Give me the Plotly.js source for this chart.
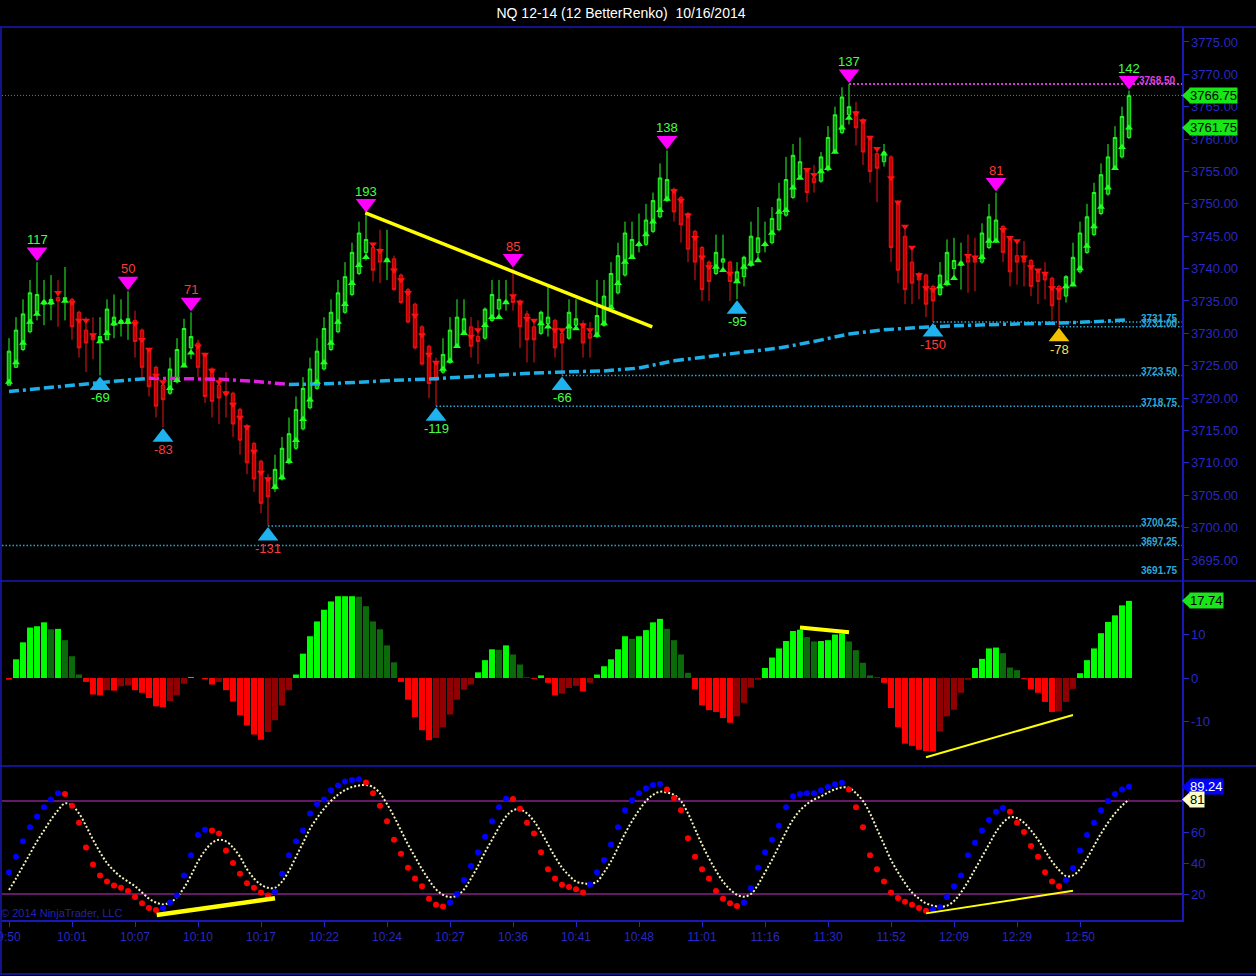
<!DOCTYPE html>
<html><head><meta charset="utf-8">
<script src="https://cdn.plot.ly/plotly-3.0.1.min.js"></script>
<style>html,body{margin:0;padding:0;background:#000;overflow:hidden}#chart{width:1256px;height:976px}</style>
</head><body><div id="chart"></div>
<script>
// ---------------- DATA ----------------
const titleText = 'NQ 12-14 (12 BetterRenko)  10/16/2014';
const timeLabels = ['9:50','10:01','10:07','10:10','10:17','10:22','10:24','10:27','10:36','10:41','10:48','11:01','11:16','11:30','11:52','12:09','12:29','12:50'];
const timeTickIdx = [0,9,18,27,36,45,54,63,72,81,90,99,108,117,126,135,144,153];

const barOpen = [3722,3724.75,3727.5,3730.25,3733.25,3734.5,3734.5,3735.5,3735.25,3735.25,
3733.25,3730.5,3729.75,3728.75,3729,3731.25,3731.5,3731.5,3732,3730.5,
3727.5,3724.75,3722,3720.75,3722.5,3725,3727.75,3728.5,3726.75,3724.5,
3722,3721,3720.75,3718.25,3715.75,3713,3710.25,3707.5,3706,3707.5,
3710,3712.25,3715.25,3718.5,3721.5,3724.5,3727.5,3730.25,3733.25,3736,
3739.25,3742.5,3743.25,3743,3741.25,3741.5,3739,3736.75,3734.5,3731,
3728,3725.5,3724,3725.5,3728,3730,3731,3729.5,3729.25,3732,
3733.75,3734.75,3735.5,3735,3733,3731,3730,3731.5,3732,3730,
3729.25,3731.25,3731.5,3730,3729.5,3731.25,3733.75,3736.25,3739,3741.75,
3743.5,3743.75,3745.75,3748,3750.5,3752.25,3751,3748.5,3745.75,3743.25,
3741,3739.25,3741,3741,3738,3738.75,3740.5,3742.5,3743.5,3744,
3746,3748.25,3751,3754.25,3755.25,3754,3753.5,3755.25,3758,3761,
3763.75,3764.25,3763,3760.25,3757.75,3756.5,3757.25,3750.25,3745,3741,
3739.25,3739,3737.25,3736,3737.5,3740,3740.5,3741.75,3741.75,3741,
3743.25,3744.25,3746.5,3744.75,3742,3741.75,3741.25,3739.5,3739.25,3738.5,
3737.25,3735.75,3737.5,3739.5,3742.5,3745.25,3748.5,3751.5,3755.5,3757.25,
3760.25];
const barHigh = [3729.25,3732.5,3735.25,3738.25,3741,3738.25,3739,3738.25,3740.25,3735.5,
3733.5,3732.5,3732.5,3732.5,3735.25,3736,3735.25,3736.5,3733.5,3730.75,
3727.75,3725,3722.5,3726.25,3729.25,3732.25,3733.25,3729,3727,3724.75,
3723.25,3724,3721,3718.5,3716,3713.25,3710.5,3708.25,3711.25,3714,
3717,3720.25,3723.25,3726.25,3729.25,3732.5,3735.25,3738.25,3741,3744,
3747.25,3748.5,3744,3746,3746,3742,3739.25,3737,3734.75,3731.25,
3728.25,3726.25,3729.25,3732.5,3735.25,3735.25,3732.5,3732,3734,3738.25,
3738.25,3738.25,3740,3735.25,3733.5,3732,3733.5,3737.25,3732.25,3730.5,
3735.25,3735.25,3732,3731.75,3738.25,3738.25,3741,3744,3747.25,3747.25,
3748.5,3750,3751.75,3756.25,3758.25,3752.5,3751.25,3748.75,3746,3743.5,
3741.25,3745.25,3745.25,3741.25,3741,3742,3747.25,3749.5,3747.25,3749.5,
3753.25,3757.25,3759.25,3760.25,3755.5,3756,3758,3762,3765,3768,
3768.5,3765.75,3763.25,3760.5,3758.5,3759.25,3757.5,3750.5,3746.5,3743.25,
3739.5,3739.25,3737.5,3741,3744.5,3744.75,3744,3745.25,3744.75,3747,
3750,3751.75,3746.75,3745,3744.25,3744.25,3741.5,3739.75,3741,3738.75,
3737.5,3739,3744,3747.25,3750,3753.25,3756.25,3759.25,3762,3765,
3767.5];
const barLow = [3722,3724.75,3727.25,3730,3732,3731.25,3732,3731,3732,3729,
3726.25,3724,3726,3723.5,3729,3729.25,3729.5,3729,3726.25,3723.25,
3720.25,3717,3715.5,3720.5,3722.25,3724.75,3726,3723.25,3719.25,3717,
3716,3717,3714,3711.25,3708.25,3705.5,3702.25,3700.25,3705.5,3707.25,
3709.75,3712,3715,3718.25,3721.25,3724.25,3727.25,3730,3733,3735.75,
3739,3741.25,3738,3737.75,3738.25,3736.5,3734.5,3731.5,3727.5,3725,
3720,3718.75,3723.75,3725.25,3727.75,3729.75,3726.25,3725.25,3729,3731.75,
3732.25,3733.5,3733.5,3727.75,3725.5,3725.5,3729.75,3729.5,3726.25,3723.5,
3729,3730.5,3726.25,3726.25,3729.25,3731,3733.5,3736,3738.75,3741.5,
3742.5,3743.5,3745.5,3747.75,3750.25,3747.25,3744,3741,3738.25,3735,
3735,3739,3739.5,3735,3735.25,3737.25,3740.25,3741.25,3742.5,3743.75,
3745.75,3748,3750.75,3753.75,3750.25,3751.75,3753.25,3755,3757.75,3760.75,
3762.25,3759,3756,3753.25,3750.25,3755.75,3741,3737.75,3734.5,3734.5,
3735.25,3732.5,3731.75,3735.75,3737.25,3738.5,3736.75,3736.25,3736.5,3740.75,
3743,3744,3741,3737.25,3737.5,3737.25,3735.75,3734.5,3735.25,3732,
3731,3734.75,3737.25,3739.25,3742.25,3745,3748.25,3751.25,3755.25,3757,
3760];
const barClose = [3727.25,3730.5,3733,3736.25,3736,3735,3735.25,3735,3735.5,3731,
3727.75,3728.5,3729,3729.5,3733.75,3732.5,3732,3732.25,3728.75,3724.75,
3721.75,3718.75,3719.75,3724.5,3727.5,3730.75,3729.5,3724.75,3720.25,3719.5,
3720,3720.5,3716,3713.5,3710,3707.5,3703.75,3704.75,3709,3712.25,
3714.5,3718.25,3721.5,3724.5,3727.25,3730.75,3733.25,3736.25,3738.75,3742.5,
3745.5,3744.5,3739.75,3741,3741.5,3736.75,3734.75,3731.75,3727.75,3725.25,
3722.25,3722.75,3726.75,3730.5,3732.5,3732.25,3728,3728.75,3733.75,3736,
3735.25,3735,3734.75,3731,3729,3729,3733.25,3732.5,3727.75,3728.5,
3733.25,3732.25,3728.5,3729.25,3732.75,3735.75,3739.25,3742,3745.5,3744.5,
3743.75,3747.5,3750.5,3754,3753.75,3748.75,3746.75,3743,3741,3736.75,
3738,3742.5,3741.5,3738,3739.5,3741.75,3745,3744.75,3743.75,3747.75,
3750.75,3753.75,3757.5,3756.5,3751.75,3753.25,3757.25,3760.25,3763.75,3766.5,
3765,3761.75,3758,3755,3755.5,3758,3743.25,3739.75,3736.75,3737.75,
3738.25,3734.5,3735,3739,3742.5,3741.25,3741,3741,3741,3745.5,
3748,3747.5,3742.5,3739.5,3741,3741,3737.25,3738,3738.25,3734.25,
3735.25,3738.75,3741.75,3745.5,3748,3751.75,3754.5,3757.25,3760.25,3763.5,
3766.75];
const barTick = [3722.5,3725.5,3728.5,3731.75,3733,3734.75,3734.75,3736.25,3735,3734.75,
3732,3732,3729.75,3728.75,3730,3731.5,3731.75,3731.75,3731.5,3729,
3727.5,3723.5,3722.5,3721.5,3722.75,3725,3727,3728,3726.75,3724.25,
3722.5,3720.75,3719,3717,3715.5,3711.75,3708.5,3707.5,3706.25,3707.75,
3710.25,3713.5,3716.75,3719.75,3722.5,3725.5,3728.5,3731.75,3734.5,3737.75,
3740.5,3741.75,3743.75,3742.75,3741.25,3739.75,3738.25,3736.25,3732.75,3729.75,
3726.75,3725.5,3724.5,3725.75,3728,3730,3729.5,3730.5,3731.25,3732.5,
3732.5,3734.75,3735.75,3734.75,3732.25,3732,3731.5,3731,3730.5,3730.5,
3731,3730.75,3731.25,3730.5,3729.75,3731.5,3734,3737.75,3741,3741.75,
3743.75,3745.25,3747.25,3749,3750.75,3752,3750.5,3748.25,3744.75,3741.75,
3740.25,3740.25,3739.75,3739.25,3738,3740.25,3740.75,3741.25,3743.75,3745.5,
3748.75,3749,3752.5,3754,3755.25,3754.5,3755,3755.5,3758,3761.75,
3763.25,3764,3762.75,3760.25,3758.5,3757.75,3754,3750.25,3746.5,3743.25,
3739,3737,3736.75,3737.25,3737.75,3738.5,3740.75,3742,3741.75,3741.75,
3744.25,3744.25,3746,3744.75,3744.25,3741.75,3740.25,3739.75,3739.25,3737,
3736.75,3737.25,3737.5,3740,3743.5,3746.5,3749.5,3752.5,3755.5,3758.75,
3761.75];

const maIdx = [0,5,10,15,20,25,30,35,40,45,50,55,60,65,70,75,80,85,90,95,100,105,110,115,120,125,130,135,140,145,150,155,160];
const maVal = [3721.0,3721.55,3722.07,3722.6,3723.05,3723.0,3722.9,3722.6,3722.1,3722.2,3722.45,3722.75,3722.95,3723.25,3723.56,3723.87,3724.07,3724.2,3724.64,3725.77,3726.43,3727.1,3727.73,3728.75,3729.9,3730.55,3730.9,3731.17,3731.33,3731.48,3731.58,3731.8,3732.1];

const levelVals  = [3697.25, 3700.25, 3718.75, 3723.50, 3731.75, 3731.00];
const levelStart = [-1, 37, 61, 79, 132, 150];
const priceMinLabel = 3691.75;
const highLevel = 3768.50, highLevelStart = 120;
const lastClose = 3766.75, lastTick = 3761.75;

const peakIdx   = [4, 17, 26, 51, 72, 94, 120, 141, 160];
const peakLabel = ['117','50','71','193','85','138','137','81','142'];
const peakKind  = ['g','r','r','g','r','g','g','r','g'];
const troughIdx   = [13, 22, 37, 61, 79, 104, 132, 150];
const troughLabel = ['-69','-83','-131','-119','-66','-95','-150','-78'];
const troughKind  = ['g','r','r','g','g','g','r','y'];

const histVals = [-0.4,4.3,8.2,11.6,11.9,12.8,11.2,11.3,8.7,5.0,
0.8,-0.9,-3.8,-4.0,-2.8,-2.9,-1.9,-1.7,-2.8,-3.4,
-4.6,-6.5,-6.7,-5.3,-4.0,-1.3,0.2,0.0,-0.3,-1.5,
-0.9,-2.8,-5.4,-8.6,-10.9,-13.0,-14.2,-12.4,-9.7,-6.3,
-2.8,0.8,5.6,9.6,13.0,15.7,17.6,18.8,18.8,18.8,
18.7,16.5,13.0,11.2,7.5,3.6,-0.9,-5.0,-9.0,-12.0,
-14.3,-13.8,-11.3,-8.4,-5.0,-2.7,-1.5,1.3,4.1,6.6,
6.5,7.5,5.4,3.1,0.15,-0.2,0.6,-1.1,-4.0,-3.6,
-2.3,-1.8,-3.1,-1.1,0.8,2.7,4.3,6.6,9.6,9.0,
9.6,11.0,12.8,13.6,11.3,8.7,5.4,1.2,-2.6,-6.3,
-7.4,-7.8,-9.2,-10.3,-8.8,-5.7,-2.2,-0.4,2.3,4.7,
6.8,8.5,10.8,11.1,9.4,8.4,8.5,8.7,10.0,10.2,
8.4,6.4,3.5,0.6,0.15,-1.1,-6.9,-11.3,-15.1,-15.6,
-16.5,-16.8,-16.9,-12.3,-8.8,-7.3,-3.4,-0.4,2.3,4.4,
6.8,7.0,5.7,2.4,1.8,-0.2,-2.6,-3.4,-5.5,-7.8,
-7.7,-5.5,-2.5,1.1,4.1,6.8,10.3,12.9,14.4,16.7,
17.74];

const oscK = [34,44,54,63,70,76,81,85,84.5,77,
66,50,39,32,28,25.5,24,22,18,14,
11,9.7,11,14.5,19,32,45,58,61.5,61,
59,48,40,33,27,24,21,19,21.5,33,
45,54,61,72,78,81,87,90,92.5,93.5,
94,92,85,77,67,55,46,37,30,25,
17,13,12,14.5,20,29,38,47,57,67,
76,81.5,81.3,75,66,59,47,36,30,26,
24.5,23,21,26,34,42,52,63,74,80.5,
85,88.2,90.3,91,87.5,82,74,56,44,36,
30,22,17,14,12.3,14.5,23.7,37,47,55,
64,76,83,84.5,85,85,87,89,90.8,91.8,
87.5,76,63,45,36,28,21,17.5,15,13,
11,9.2,10,11.5,18,25,32,45,53,61,
67.7,73,75.5,73,66,60,51,44,34,28,
25,29,36.6,48,58,66,74,80,84.5,87.5,
89.24];
const oscD = [22.6,30,38,46,54,61,68,74,78.5,77,
72,64,55,47,40,35,31,28,25,21,
17,14.5,13.3,14.5,18,24,32,41,48,53,
55,54,50,44,36,30,26,24,24,28,
35,44,53,62,69,75,80,84,87,89,
90,90.3,89,85,78,70,61,52,44,36,
29,23,19.5,18,19,23,30,38,47,55,
63,70,74,74.6,72,67,60,52,44,37,
32,28,27,26.5,28,34,41,50,59,67,
74,80,84,86,85.5,84,80,72,62,52,
43,35,28,23,19.5,18.3,20,26,34,42,
51,60,68,74,78,81,83,85.5,87.5,88.8,
88.5,85,80,72,62,52,42,34,27,21,
17,14,12.5,11.8,12.5,15.5,21,28,36,44,
52,60,66,69.5,69,66,61,55,48,41,
35.5,31.6,32,36,43,51,59,66,72,77,
81];
const oscLevels = [80, 20];

// hand-drawn trend lines: bar index pairs and value pairs
const priceTrendX = [50.9, 91.9], priceTrendY = [3748.6, 3731.0];
const histTrend1X = [113.0, 120.0], histTrend1Y = [11.6, 10.5];
const histTrend2X = [131.0, 152.0], histTrend2Y = [-18.2, -8.5];
const oscTrend1X  = [21.1, 38.0],  oscTrend1Y  = [6.5, 17.2];
const oscTrend2X  = [131.0, 152.0], oscTrend2Y = [7.5, 22.1];

const priceTicks = [3695,3700,3705,3710,3715,3720,3725,3730,3735,3740,3745,3750,3755,3760,3765,3770,3775];
const histTicks = [-10, 0, 10];
const oscTicks = [20, 40, 60];

// ---------------- LAYOUT GEOMETRY ----------------
const FONT = 'Liberation Sans, Arial, sans-serif';
const W = 1256, Ht = 976, ML = 2, MR = 74, MT = 27, MB = 56;
const PW = W - ML - MR, PH = Ht - MT - MB;
const pyToPaper = py => (Ht - MB - py) / PH;
const pxToPaper = px => (px - ML) / PW;
const barPx = 7;
const xRange = [-1, -1 + PW / barPx];
const dPrice = [pyToPaper(581), 1];
const dHist  = [pyToPaper(766), pyToPaper(581)];
const dOsc   = [0, pyToPaper(766)];
const priceRange = [priceMinLabel, 3777.31];
const histRange = [-20.23, 22.30];
const oscRange = [3.23, 102.58];
const ppuP = (dPrice[1]-dPrice[0])*PH / (priceRange[1]-priceRange[0]);
const ppuH = (dHist[1]-dHist[0])*PH / (histRange[1]-histRange[0]);
const ppuO = (dOsc[1]-dOsc[0])*PH / (oscRange[1]-oscRange[0]);

const BORDER = '#1818b8', AXTXT = '#2828c4';
const LIME = '#22ff22', RED = '#e81414';
const txtCol = {g:'#44ff44', r:'#ff3a3a', y:'#ffe040'};
const N = barClose.length;
const idx = barClose.map((_, i) => i);
const xEnd = xRange[1];

const traces = [];

levelVals.forEach((v, k) => {
  traces.push({type:'scatter', mode:'lines', x:[levelStart[k], xEnd], y:[v, v], xaxis:'x', yaxis:'y',
    line:{color:'#2aa6d2', width:1.5, dash:'1.5px,2px'}, hoverinfo:'skip'});
});
traces.push({type:'scatter', mode:'lines', x:[xRange[0], xEnd], y:[lastClose, lastClose], xaxis:'x', yaxis:'y',
  line:{color:'#3f9f3f', width:1, dash:'1px,2px'}, hoverinfo:'skip'});
traces.push({type:'scatter', mode:'lines', x:[highLevelStart, xEnd], y:[highLevel, highLevel], xaxis:'x', yaxis:'y',
  line:{color:'#d23cd2', width:2, dash:'2px,2px'}, hoverinfo:'skip'});

for (let k = 0; k < maIdx.length - 1; k++) {
  const falling = maVal[k+1] < maVal[k];
  traces.push({type:'scatter', mode:'lines', x:[maIdx[k], maIdx[k+1]], y:[maVal[k], maVal[k+1]], xaxis:'x', yaxis:'y',
    line:{color: falling ? '#e020e0' : '#1eaee8', width:3.5, dash:'10px,4px,3px,4px'}, hoverinfo:'skip'});
}

traces.push({type:'candlestick', x: idx, open: barOpen, high: barHigh, low: barLow, close: barClose,
  xaxis:'x', yaxis:'y', whiskerwidth:0,
  increasing:{line:{color:LIME, width:1}, fillcolor:'#169a16'},
  decreasing:{line:{color:RED, width:1}, fillcolor:'#c40000'}, hoverinfo:'skip'});

const upX=[], upY=[], dnX=[], dnY=[];
idx.forEach(i => { if (barClose[i] >= barOpen[i]) { upX.push(i); upY.push(barTick[i]); } else { dnX.push(i); dnY.push(barTick[i]); } });
traces.push({type:'scatter', mode:'markers', x:upX, y:upY, xaxis:'x', yaxis:'y', marker:{symbol:'triangle-up', size:7, color:LIME}, hoverinfo:'skip'});
traces.push({type:'scatter', mode:'markers', x:dnX, y:dnY, xaxis:'x', yaxis:'y', marker:{symbol:'triangle-down', size:7, color:'#ff1010'}, hoverinfo:'skip'});

const TS = 18, tr = TS/2;
traces.push({type:'scatter', mode:'markers', x: peakIdx, y: peakIdx.map(i => barHigh[i] + (tr + 1)/ppuP), xaxis:'x', yaxis:'y',
  marker:{symbol:'triangle-down', size:TS, color:'#ff00ff'}, hoverinfo:'skip', cliponaxis:false});
traces.push({type:'scatter', mode:'markers', x: troughIdx, y: troughIdx.map(i => barLow[i] - (tr + 1)/ppuP), xaxis:'x', yaxis:'y',
  marker:{symbol:'triangle-up', size:TS, color: troughKind.map(k => k === 'y' ? '#f2c200' : '#1eb2ee')}, hoverinfo:'skip'});

traces.push({type:'scatter', mode:'lines', x:priceTrendX, y:priceTrendY, xaxis:'x', yaxis:'y', line:{color:'#ffff00', width:3.5}, hoverinfo:'skip'});

const histColors = histVals.map((v, i) => {
  const p = i ? histVals[i-1] : 0;
  if (v >= 0) return v >= p ? '#00ff00' : '#0b6b0b';
  return v < p ? '#ff0000' : '#900000';
});
traces.push({type:'bar', x: idx, y: histVals, xaxis:'x', yaxis:'y2', width:0.85, marker:{color: histColors, line:{width:0}}, hoverinfo:'skip'});
traces.push({type:'scatter', mode:'lines', x:histTrend1X, y:histTrend1Y, xaxis:'x', yaxis:'y2', line:{color:'#ffff00', width:4}, hoverinfo:'skip'});
traces.push({type:'scatter', mode:'lines', x:histTrend2X, y:histTrend2Y, xaxis:'x', yaxis:'y2', line:{color:'#ffff00', width:2}, hoverinfo:'skip'});

oscLevels.forEach(v => traces.push({type:'scatter', mode:'lines', x:[xRange[0], xEnd], y:[v, v], xaxis:'x', yaxis:'y3', line:{color:'#c832c8', width:1.2}, hoverinfo:'skip'}));
traces.push({type:'scatter', mode:'lines', x: idx, y: oscD, xaxis:'x', yaxis:'y3', line:{color:'#f4f4c0', width:2, dash:'2px,2px', shape:'spline'}, hoverinfo:'skip'});
const kCols = oscK.map((v, i) => (i === 0 || v >= oscK[i-1]) ? '#0000ff' : '#ff0000');
traces.push({type:'scatter', mode:'markers', x: idx, y: oscK, xaxis:'x', yaxis:'y3', marker:{size:6, color:kCols}, hoverinfo:'skip'});
traces.push({type:'scatter', mode:'lines', x:oscTrend1X, y:oscTrend1Y, xaxis:'x', yaxis:'y3', line:{color:'#ffff00', width:4.5}, hoverinfo:'skip'});
traces.push({type:'scatter', mode:'lines', x:oscTrend2X, y:oscTrend2Y, xaxis:'x', yaxis:'y3', line:{color:'#ffff00', width:2}, hoverinfo:'skip'});

// ---------------- ANNOTATIONS ----------------
const ann = [];
peakIdx.forEach((i, k) => ann.push({x:i, y:barHigh[i], xref:'x', yref:'y', text:peakLabel[k], showarrow:false, yshift:tr*1.5 + 9,
  font:{family:FONT, size:13, color:txtCol[peakKind[k]]}}));
troughIdx.forEach((i, k) => ann.push({x:i, y:barLow[i], xref:'x', yref:'y', text:troughLabel[k], showarrow:false, yshift:-(tr*1.5 + 9),
  font:{family:FONT, size:13, color:txtCol[troughKind[k]]}}));
levelVals.forEach(v => ann.push({x:1, xref:'paper', xanchor:'right', xshift:-2, y:v, yref:'y', yanchor:'bottom', yshift:-4,
  text:'<b>' + v.toFixed(2) + '</b>', showarrow:false, font:{family:FONT, size:10, color:'#2ea8d8'}}));
ann.push({x:1, xref:'paper', xanchor:'right', xshift:-2, y:priceMinLabel, yref:'y', yanchor:'bottom', yshift:3,
  text:'<b>' + priceMinLabel.toFixed(2) + '</b>', showarrow:false, font:{family:FONT, size:10, color:'#2ea8d8'}});
ann.push({x:1, xref:'paper', xanchor:'right', xshift:-4, y:highLevel, yref:'y', yanchor:'bottom', yshift:-4,
  text:'<b>' + highLevel.toFixed(2) + '</b>', showarrow:false, font:{family:FONT, size:10, color:'#e040e0'}});

const boxes = [
  {v:lastClose, yref:'y', ppu:ppuP, txt:lastClose.toFixed(2), bg:'#19e619', fg:'#000'},
  {v:lastTick, yref:'y', ppu:ppuP, txt:lastTick.toFixed(2), bg:'#19e619', fg:'#000'},
  {v:histVals[N-1], yref:'y2', ppu:ppuH, txt:histVals[N-1].toFixed(2), bg:'#19e619', fg:'#000'},
  {v:oscK[N-1], yref:'y3', ppu:ppuO, txt:oscK[N-1].toFixed(2), bg:'#0000ff', fg:'#fff'},
  {v:oscD[N-1], yref:'y3', ppu:ppuO, txt:String(Math.round(oscD[N-1])), bg:'#ffffc8', fg:'#000'}
];
const shapes = [];
boxes.forEach(b => {
  ann.push({x:1, xref:'paper', xanchor:'left', xshift:7, y:b.v, yref:b.yref, yanchor:'middle', text:b.txt, showarrow:false,
    bgcolor:b.bg, borderpad:0, font:{family:FONT, size:13, color:b.fg}});
  const h = 7.5 / b.ppu;
  shapes.push({type:'path', xref:'paper', yref:b.yref, fillcolor:b.bg, line:{width:0},
    path:`M ${pxToPaper(1182)} ${b.v} L ${pxToPaper(1190)} ${b.v + h} L ${pxToPaper(1190)} ${b.v - h} Z`});
});
ann.push({x:0, xref:'paper', xanchor:'left', xshift:-3, y:pyToPaper(913), yref:'paper', yanchor:'middle', text:'© 2014 NinjaTrader, LLC',
  showarrow:false, font:{family:FONT, size:11, color:'#2222b0'}});

const lineShape = (x0, y0, x1, y1) => ({type:'line', xref:'paper', yref:'paper', x0, y0, x1, y1, line:{color:BORDER, width:1.5}});
shapes.push(lineShape(pxToPaper(0), 1, pxToPaper(W), 1));
shapes.push(lineShape(pxToPaper(0), dPrice[0], pxToPaper(W), dPrice[0]));
shapes.push(lineShape(pxToPaper(0), dHist[0], pxToPaper(W), dHist[0]));
shapes.push(lineShape(pxToPaper(0), pyToPaper(974), pxToPaper(W), pyToPaper(974)));
shapes.push(lineShape(pxToPaper(1), 1, pxToPaper(1), pyToPaper(974)));

const yBase = {side:'right', anchor:'x', showgrid:false, zeroline:false, showline:true, linecolor:BORDER, linewidth:1.5,
  ticks:'outside', ticklen:5, tickcolor:AXTXT, tickwidth:1, tickfont:{family:FONT, size:13, color:AXTXT}, fixedrange:true};

const layout = {
  width:W, height:Ht, paper_bgcolor:'#000', plot_bgcolor:'#000', showlegend:false, hovermode:false,
  margin:{l:ML, r:MR, t:MT, b:MB, pad:0},
  title:{text:titleText, x:621/W, xref:'container', xanchor:'center', y:1 - 13.5/Ht, yref:'container', yanchor:'middle',
    font:{family:FONT, size:14, color:'#ffffff'}},
  xaxis:{domain:[0,1], range:xRange, anchor:'y3', showgrid:false, zeroline:false, showline:true, linecolor:BORDER, linewidth:1.5,
    tickmode:'array', tickvals:timeTickIdx, ticktext:timeLabels, ticks:'outside', ticklen:5, tickcolor:AXTXT,
    ticklabeloverflow:'allow', tickfont:{family:FONT, size:12, color:AXTXT}, rangeslider:{visible:false}, fixedrange:true},
  yaxis:Object.assign({}, yBase, {domain:dPrice, range:priceRange, tickmode:'array', tickvals:priceTicks, ticktext:priceTicks.map(v => v.toFixed(2))}),
  yaxis2:Object.assign({}, yBase, {domain:dHist, range:histRange, tickmode:'array', tickvals:histTicks, ticktext:histTicks.map(String)}),
  yaxis3:Object.assign({}, yBase, {domain:dOsc, range:oscRange, tickmode:'array', tickvals:oscTicks, ticktext:oscTicks.map(String)}),
  annotations:ann, shapes:shapes
};

Plotly.newPlot('chart', traces, layout, {staticPlot:true, displayModeBar:false});
</script>
</body></html>
